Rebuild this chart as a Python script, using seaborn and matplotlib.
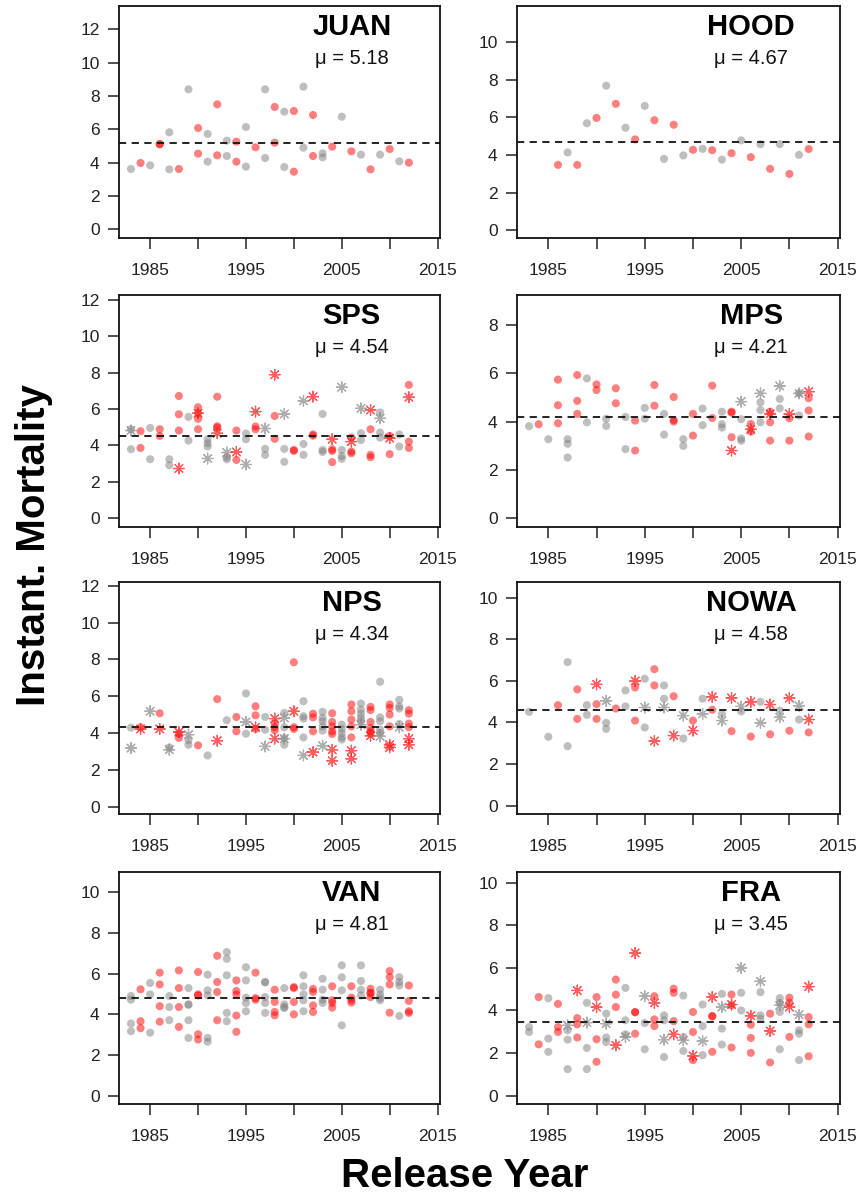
import pandas as pd
import matplotlib
matplotlib.use("Agg")
import matplotlib.pyplot as plt
import seaborn as sns

# ==========================================
# 1. DATA: instant. mortality by release year
#    dots = circles, stars = asterisks
# ==========================================
JUAN_DOTS = {1983: [3.62], 1984: [3.98], 1985: [3.84], 1986: [5.10, 5.12], 1987: [5.82, 3.60],
             1988: [3.62], 1989: [8.40], 1990: [6.08, 4.54], 1991: [5.72, 4.06], 1992: [7.50, 4.44],
             1993: [5.32, 4.40], 1994: [5.26, 4.06], 1995: [6.14, 3.76], 1996: [4.92], 1997: [8.40, 4.28],
             1998: [7.34, 5.20], 1999: [7.06, 3.74], 2000: [7.10, 3.46], 2001: [8.56, 4.90],
             2002: [6.86, 4.40], 2003: [4.56, 4.32], 2004: [4.96], 2005: [6.76], 2006: [4.68],
             2007: [4.48], 2008: [3.60], 2009: [4.48], 2010: [4.82], 2011: [4.08], 2012: [4.00]}
JUAN_STARS = {}

HOOD_DOTS = {1986: [3.47], 1987: [4.13], 1988: [3.47], 1989: [5.68], 1990: [5.96], 1991: [7.67],
             1992: [6.71], 1993: [5.44], 1994: [4.82], 1995: [6.60], 1996: [5.84], 1997: [3.79],
             1998: [5.60], 1999: [3.97], 2000: [4.27], 2001: [4.32], 2002: [4.25], 2003: [3.75],
             2004: [4.09], 2005: [4.77], 2006: [3.88], 2007: [4.57], 2008: [3.26], 2009: [4.57],
             2010: [2.99], 2011: [4.00], 2012: [4.31]}
HOOD_STARS = {}

SPS_DOTS = {1983: [4.89, 3.79], 1984: [4.78, 3.86], 1985: [4.96, 3.24], 1986: [4.89, 4.52],
            1987: [3.24, 2.91], 1988: [6.72, 5.71, 4.82], 1989: [5.57, 4.27],
            1990: [6.10, 5.77, 5.46, 4.89], 1991: [4.34, 4.12, 3.94], 1992: [6.68, 5.05, 4.98],
            1993: [3.35, 3.24], 1994: [4.82, 3.20], 1995: [4.65, 4.34], 1996: [5.04, 4.89],
            1997: [3.81, 3.48], 1998: [5.62, 4.36], 1999: [3.81, 3.10], 2000: [3.75, 3.70],
            2001: [4.08, 3.48], 2002: [4.60, 4.54], 2003: [5.73, 3.75, 3.64], 2004: [3.79, 3.70, 3.08],
            2005: [3.75, 3.42, 3.26], 2006: [4.43, 3.66, 3.57], 2007: [4.67, 4.30],
            2008: [4.89, 3.48, 3.35], 2009: [5.81, 4.71, 4.43], 2010: [4.52, 3.52],
            2011: [4.60, 3.94], 2012: [7.33, 4.21, 3.86]}
SPS_STARS = {1983: [4.82], 1988: [2.73], 1990: [5.77], 1991: [3.28], 1992: [4.67], 1993: [3.61],
             1994: [3.64], 1995: [2.95], 1996: [5.86], 1997: [4.93], 1998: [7.89], 1999: [5.73],
             2001: [6.45], 2002: [6.68], 2004: [4.34], 2005: [7.20], 2006: [4.21], 2007: [6.04],
             2008: [5.95], 2009: [5.49], 2010: [4.40], 2012: [6.65]}

MPS_DOTS = {1983: [3.81], 1984: [3.89], 1985: [3.27], 1986: [5.74, 4.68, 3.93], 1987: [3.27, 3.08, 2.51],
            1988: [5.93, 4.86, 4.32], 1989: [5.79, 3.97], 1990: [5.54, 5.31], 1991: [4.12, 3.82],
            1992: [5.38, 4.76], 1993: [4.19, 2.86], 1994: [4.04, 2.80], 1995: [4.57, 4.12],
            1996: [5.52, 4.66], 1997: [4.32, 3.46], 1998: [5.02, 4.07, 4.00], 1999: [3.27, 2.99],
            2000: [4.32, 3.42], 2001: [4.54, 3.85], 2002: [5.49, 4.15], 2003: [4.41, 3.89, 3.75],
            2004: [4.41, 4.37, 3.35], 2005: [4.10, 3.30, 3.21], 2006: [3.90, 3.59],
            2007: [4.80, 4.48, 3.97], 2008: [4.41, 3.97, 3.21], 2009: [4.94, 4.55],
            2010: [4.14, 3.21], 2011: [5.17, 4.25], 2012: [4.97, 4.46, 3.38]}
MPS_STARS = {2004: [2.80], 2005: [4.83], 2006: [3.68], 2007: [5.17], 2008: [4.32], 2009: [5.48],
             2010: [4.32], 2011: [5.17], 2012: [5.24]}

NPS_DOTS = {1983: [4.29], 1984: [4.31], 1986: [5.07], 1987: [3.22], 1988: [3.96, 3.73],
            1989: [3.60, 3.36], 1990: [3.33], 1991: [2.78], 1992: [5.84], 1993: [4.69],
            1994: [4.87, 4.09], 1995: [6.15, 3.96], 1996: [5.45, 4.96, 4.22], 1997: [4.87, 4.18],
            1998: [4.51, 4.31, 4.15], 1999: [5.09, 4.31, 3.73, 3.36], 2000: [7.84, 4.31, 4.22],
            2001: [5.73, 4.91, 4.78, 3.76], 2002: [5.05, 4.85, 4.09],
            2003: [5.15, 4.82, 4.64, 4.36, 4.13], 2004: [5.07, 4.60, 4.36, 4.09, 3.95],
            2005: [4.45, 4.22, 4.00, 3.76, 3.64], 2006: [5.55, 5.18, 4.73, 4.36, 3.76],
            2007: [5.60, 5.27, 5.04, 4.82, 4.64], 2008: [5.42, 5.24, 4.60, 4.27, 4.09, 3.98],
            2009: [6.78, 4.85, 4.64, 4.18, 4.00], 2010: [5.55, 5.36, 5.00, 4.36],
            2011: [5.80, 5.45, 5.33, 4.49], 2012: [5.24, 5.05, 4.51, 4.31]}
NPS_STARS = {1983: [3.18], 1984: [4.22], 1985: [5.18], 1986: [4.22], 1987: [3.09], 1988: [4.05],
             1989: [3.91], 1992: [3.58], 1995: [4.60], 1996: [4.31], 1997: [3.27], 1998: [4.78, 3.69],
             1999: [4.82, 3.69], 2000: [5.18], 2001: [2.78], 2002: [2.96], 2003: [3.31],
             2004: [3.09, 2.49], 2006: [3.04, 2.60], 2007: [4.45], 2008: [3.85], 2009: [3.82],
             2010: [3.36, 3.22], 2011: [4.31], 2012: [3.69, 3.36]}

NOWA_DOTS = {1983: [4.51], 1985: [3.31], 1986: [4.83], 1987: [6.90, 2.86], 1988: [5.59, 4.17],
             1989: [4.83, 4.37], 1990: [4.88, 4.17], 1991: [3.98, 3.69], 1992: [4.67],
             1993: [5.54, 4.77], 1994: [5.68, 4.09], 1995: [6.10, 3.76], 1996: [6.56, 5.78],
             1997: [5.78, 5.14], 1998: [5.26], 1999: [3.23], 2000: [4.09], 2001: [5.14], 2002: [4.61],
             2003: [4.41], 2004: [3.58], 2005: [4.53], 2006: [3.32], 2007: [4.99], 2008: [3.43],
             2009: [4.57], 2010: [3.60], 2011: [4.14], 2012: [3.52]}
NOWA_STARS = {1990: [5.83], 1991: [5.04], 1994: [5.99], 1995: [4.72], 1996: [3.11], 1997: [4.72],
              1998: [3.37], 1999: [4.33], 2000: [3.61], 2001: [4.41], 2002: [5.23], 2003: [4.09],
              2004: [5.18], 2005: [4.77], 2006: [4.99], 2007: [3.98], 2008: [4.86], 2009: [4.25],
              2010: [5.17], 2011: [4.80], 2012: [4.14]}

VAN_DOTS = {1983: [4.90, 4.72, 3.55, 3.17], 1984: [5.23, 3.66, 3.32], 1985: [5.54, 4.98, 3.10],
            1986: [6.05, 5.47, 4.40, 3.64], 1987: [4.90, 4.36, 3.71], 1988: [6.16, 5.29, 4.36, 3.38],
            1989: [5.29, 4.49, 4.47, 3.71, 2.84], 1990: [6.08, 4.98, 4.93, 3.02, 2.76],
            1991: [5.95, 5.18, 4.93, 2.84, 2.65], 1992: [6.88, 5.59, 5.10, 3.71],
            1993: [7.06, 6.73, 5.92, 4.07, 3.66], 1994: [5.67, 5.15, 4.98, 3.94, 3.14],
            1995: [6.32, 5.67, 4.82, 4.56, 4.15], 1996: [6.05, 4.80, 4.72],
            1997: [5.59, 5.57, 4.85, 4.56, 4.07], 1998: [5.21, 4.61, 4.12, 3.95],
            1999: [5.29, 4.49, 4.36, 4.31], 2000: [5.34, 5.29, 4.61, 4.00],
            2001: [5.92, 5.38, 4.98, 4.69, 4.15], 2002: [5.25, 5.10, 4.44, 4.12],
            2003: [5.75, 5.21, 4.72, 4.56], 2004: [5.38, 4.69, 4.56, 4.33], 2005: [6.41, 5.82, 5.18, 3.46],
            2006: [5.38, 4.82, 4.69, 4.58], 2007: [6.41, 5.64, 5.21, 4.93], 2008: [5.26, 5.07, 5.02, 4.85],
            2009: [5.21, 4.97, 4.80, 4.69], 2010: [6.13, 5.83, 5.47, 4.08], 2011: [5.83, 5.59, 5.42, 3.92],
            2012: [5.42, 4.66, 4.15, 4.07]}
VAN_STARS = {}

FRA_DOTS = {1983: [3.22, 2.99], 1984: [4.63, 2.41], 1985: [4.58, 2.68, 2.06], 1986: [4.31, 3.22, 2.99],
            1987: [3.07, 2.63, 1.25], 1988: [3.64, 3.35, 2.73], 1989: [4.36, 2.24, 1.25],
            1990: [4.63, 2.65, 1.59], 1991: [3.85, 2.73, 2.52], 1992: [5.45, 4.74, 4.16],
            1993: [5.06, 3.54, 2.88], 1994: [3.93, 3.91, 2.91], 1995: [3.41, 2.18], 1996: [4.67, 3.58, 3.27],
            1997: [3.77, 3.54, 1.82], 1998: [5.02, 4.83, 3.50], 1999: [4.70, 2.76, 2.10],
            2000: [3.93, 2.99, 1.67], 2001: [4.28, 3.27, 1.90], 2002: [3.74, 3.72, 2.06],
            2003: [4.78, 3.15, 2.40], 2004: [4.75, 4.24, 2.26], 2005: [4.83, 4.00], 2006: [3.33, 2.71, 2.01],
            2007: [4.86, 3.77, 3.61], 2008: [3.85, 1.56], 2009: [4.58, 4.35, 3.93, 2.18],
            2010: [4.60, 4.36, 2.76], 2011: [3.07, 2.91, 1.67], 2012: [3.69, 3.35, 1.85]}
FRA_STARS = {1987: [3.30], 1988: [4.94], 1989: [3.43], 1990: [4.16], 1991: [3.38], 1992: [2.37],
             1993: [2.76], 1994: [6.70], 1995: [4.67], 1996: [4.36], 1997: [2.63], 1998: [2.88],
             1999: [2.60], 2000: [1.87], 2001: [2.57], 2002: [4.63], 2003: [4.16], 2004: [4.28],
             2005: [6.00], 2006: [3.75], 2007: [5.37], 2008: [3.04], 2009: [4.24], 2010: [4.16],
             2011: [3.80], 2012: [5.12]}

REGIONS = ["JUAN", "HOOD", "SPS", "MPS", "NPS", "NOWA", "VAN", "FRA"]
MEANS = [5.18, 4.67, 4.54, 4.21, 4.34, 4.58, 4.81, 3.45]
X_TICKS = [1985, 1990, 1995, 2000, 2005, 2010, 2015]
X_TICK_LABELS = ["1985", "", "1995", "", "2005", "", "2015"]

# ==========================================
# 2. LAYOUT / STYLE (no data here)
# ==========================================
# per panel: y-limits, top y tick
Y_SETUP = {"JUAN": ((-0.52, 13.4), 12), "HOOD": ((-0.41, 11.9), 10),
           "SPS": ((-0.46, 12.3), 12), "MPS": ((-0.35, 9.27), 8),
           "NPS": ((-0.40, 12.2), 12), "NOWA": ((-0.40, 10.75), 10),
           "VAN": ((-0.41, 11.0), 10), "FRA": ((-0.39, 10.5), 10)}

W, H = 857, 1196
COL_LEFT = [119, 517]
COL_WIDTH = [321, 323]
ROW_BOTTOM = [238, 526.5, 814, 1104]
PANEL_H = 232

DOT_PAL = {"odd": "#7f7f7f", "even": "#ff0000"}
STAR_PAL = {"odd": "#8a8a8a", "even": "#ff1a1a"}

sns.set_theme(style="ticks")
plt.rcParams["font.family"] = ["Liberation Sans", "DejaVu Sans"]
plt.rcParams["text.color"] = "black"


def to_frame(dots, stars):
    rows = []
    for kind, d in (("dot", dots), ("star", stars)):
        for yr, vals in d.items():
            for v in vals:
                rows.append((yr, v, kind, "even" if yr % 2 == 0 else "odd"))
    return pd.DataFrame(rows, columns=["year", "mort", "kind", "parity"])


fig = plt.figure(figsize=(W / 100, H / 100), dpi=100)

for i, name in enumerate(REGIONS):
    r, c = divmod(i, 2)
    ax = fig.add_axes([COL_LEFT[c] / W, 1 - ROW_BOTTOM[r] / H, COL_WIDTH[c] / W, PANEL_H / H])
    df = to_frame(globals()[name + "_DOTS"], globals()[name + "_STARS"])

    dots = df[df["kind"] == "dot"]
    sns.scatterplot(data=dots, x="year", y="mort", hue="parity", palette=DOT_PAL,
                    s=34, alpha=0.5, linewidth=0, legend=False, ax=ax, zorder=2)
    stars = df[df["kind"] == "star"]
    if len(stars):
        sns.scatterplot(data=stars, x="year", y="mort", hue="parity", palette=STAR_PAL,
                        marker=(8, 2, 0), s=60, linewidth=0.9, alpha=0.7,
                        legend=False, ax=ax, zorder=3)

    ax.axhline(MEANS[i], color="#111111", lw=1.3, ls=(0, (4, 3)), zorder=4)

    ylim, ytop = Y_SETUP[name]
    ax.set_xlim(1981.75, 2015.25)
    ax.set_ylim(*ylim)
    ax.set_xticks(X_TICKS)
    ax.set_xticklabels(X_TICK_LABELS)
    ax.set_yticks(range(0, ytop + 1, 2))
    ax.set_xlabel("")
    ax.set_ylabel("")
    ax.tick_params(axis="both", direction="out", length=8, width=1.1, color="#222222",
                   labelsize=12.5, labelcolor="#222222")
    ax.tick_params(axis="x", pad=10)
    ax.tick_params(axis="y", pad=6)
    for sp in ax.spines.values():
        sp.set_color("#111111")
        sp.set_linewidth(1.3)

    ax.text(0.725, 0.875, name, transform=ax.transAxes, ha="center", va="baseline",
            fontsize=21, fontweight="bold", color="black")
    ax.text(0.725, 0.75, "\u03bc = %.2f" % MEANS[i], transform=ax.transAxes, ha="center",
            va="baseline", fontsize=14.5, color="#111111")

fig.text(34 / W, 1 - 545 / H, "Instant. Mortality", rotation=90, ha="center", va="center",
         fontsize=29, fontweight="bold", color="black")
fig.text(465 / W, 1 - 1195 / H, "Release Year", ha="center", va="bottom",
         fontsize=29, fontweight="bold", color="black")

fig.savefig("out.png", dpi=100, facecolor="white")
